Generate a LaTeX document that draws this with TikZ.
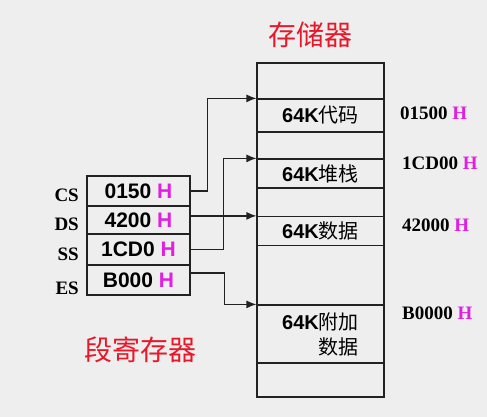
\documentclass[tikz,border=0pt]{standalone}
\usepackage{fontspec}
\setmainfont{Liberation Serif}
\setsansfont{Liberation Sans}
\newfontfamily\cjk{Noto Sans CJK SC}
\usetikzlibrary{arrows.meta}
\definecolor{bgc}{HTML}{EEEEEE}
\definecolor{redt}{HTML}{E8182A}
\definecolor{mag}{HTML}{E020E0}
\definecolor{ink}{HTML}{222222}
\tikzset{
  cell/.style={draw=ink, line width=1.2pt, minimum width=127pt, inner sep=0pt,
    font=\fontsize{20}{25}\selectfont},
  reg/.style={draw=ink, line width=1.2pt, minimum width=103pt, inner sep=0pt,
    font=\sffamily\bfseries\fontsize{21}{21}\selectfont},
  rlab/.style={anchor=east, inner sep=0pt, font=\rmfamily\bfseries\fontsize{19}{19}\selectfont},
  addr/.style={anchor=west, inner sep=0pt, font=\rmfamily\bfseries\fontsize{19}{19}\selectfont},
  title/.style={inner sep=0pt, text=redt, font=\cjk\fontsize{28}{28}\selectfont},
  conn/.style={draw=ink, line width=1.2pt, -{Latex[length=10pt,width=8pt]}},
}
\newcommand{\kb}{{\sffamily\bfseries 64K}}
\newcommand{\hh}{\textcolor{mag}{H}}
\begin{document}
\begin{tikzpicture}[x=1pt,y=-1pt]
  \fill[bgc] (0,0) rectangle (487,417);
  \useasboundingbox (0,0) rectangle (487,417);
  % titles
  \node[title] (t1) at (310,35) {存储器};
  \node[title] (t2) at (140,350) {段寄存器};
  % memory
  \node[draw=ink, line width=1.2pt, minimum width=127pt, minimum height=334pt, inner sep=0pt] (mem) at (320.5,230) {};
  \node[cell, minimum height=33pt] (code) at (320.5,115.5) {\kb{\cjk 代码}};
  \node[cell, minimum height=29pt] (stack) at (320.5,173.5) {\kb{\cjk 堆栈}};
  \node[cell, minimum height=29pt] (data) at (320.5,231) {\kb{\cjk 数据}};
  \node[cell, minimum height=58pt, align=right] (extra) at (320.5,334) {\kb{\cjk 附加}\\{\cjk 数据}};
  % addresses
  \node[addr] (a1) at (400,113) {01500 \hh};
  \node[addr] (a2) at (402,163) {1CD00 \hh};
  \node[addr] (a3) at (402,225) {42000 \hh};
  \node[addr] (a4) at (402,313) {B0000 \hh};
  % registers
  \node[reg, minimum height=30pt] (cs) at (138.5,191) {0150 \hh};
  \node[reg, minimum height=28pt] (ds) at (138.5,220) {4200 \hh};
  \node[reg, minimum height=31pt] (ss) at (138.5,249.5) {1CD0 \hh};
  \node[reg, minimum height=30pt] (es) at (138.5,280) {B000 \hh};
  \node[rlab] (lcs) at (79,195) {CS};
  \node[rlab] (lds) at (79,224) {DS};
  \node[rlab] (lss) at (79,254) {SS};
  \node[rlab] (les) at (79,288) {ES};
  % connectors
  \draw[conn] (cs.east) -- ++(17,0) |- (code.north west);
  \draw[conn] (ds.east |- data.north west) -- (data.north west);
  \draw[conn] (ss.east) -- ++(33,0) |- (stack.north west);
  \draw[conn] ([yshift=7pt]es.east) -- ++(34,0) |- (extra.north west);
\end{tikzpicture}
\end{document}
